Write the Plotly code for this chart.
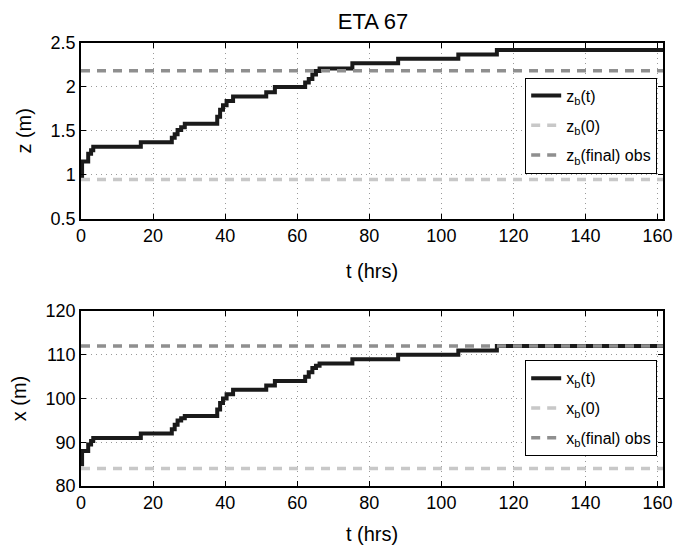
import plotly.graph_objects as go

# ---- data ----
t_hrs = [0, 0.3, 2.0, 2.8, 3.4, 16.6, 25.2, 26.0, 26.8, 27.8, 28.8, 37.8, 38.6,
         39.4, 40.4, 42.2, 51.4, 53.8, 62.2, 63.2, 64.2, 65.2, 66.2, 75.3, 88.0,
         104.7, 115.4, 161.5]
z_b = [0.97, 1.15, 1.24, 1.28, 1.32, 1.37, 1.42, 1.46, 1.51, 1.54, 1.58, 1.66, 1.74,
       1.79, 1.84, 1.89, 1.94, 2.00, 2.05, 2.09, 2.14, 2.18, 2.21, 2.27, 2.32,
       2.37, 2.42, 2.42]
x_b = [85, 88, 89.5, 90.3, 91, 92, 93, 94, 95, 95.5, 96, 97.5, 99,
       100, 101, 102, 103, 104, 105, 106, 107, 107.5, 108, 109, 110,
       111, 112, 112]
t_span = [0, 161.5]
z_b0 = 0.945
z_b_final_obs = 2.185
x_b0 = 84
x_b_final_obs = 112

title_text = "ETA 67"
z_ticks = [0.5, 1, 1.5, 2, 2.5]
x_ticks_m = [80, 90, 100, 110, 120]
t_ticks = [0, 20, 40, 60, 80, 100, 120, 140, 160]

FONT = "Liberation Sans, Arial, Helvetica, sans-serif"
BLACK = "#1a1a1a"
LIGHT = "#c8c8c8"
DARK = "#8f8f8f"
DASH = "9px,7px"

fig = go.Figure()

# top panel
fig.add_trace(go.Scatter(x=t_hrs, y=z_b, mode="lines", line=dict(color=BLACK, width=4, shape="hv"),
                         name="z<sub>b</sub>(t)", legend="legend", legendgroup="a1",
                         xaxis="x", yaxis="y"))
fig.add_trace(go.Scatter(x=t_span, y=[z_b0, z_b0], mode="lines",
                         line=dict(color=LIGHT, width=3.5, dash=DASH),
                         name="z<sub>b</sub>(0)", legend="legend", legendgroup="a2",
                         xaxis="x", yaxis="y"))
fig.add_trace(go.Scatter(x=t_span, y=[z_b_final_obs, z_b_final_obs], mode="lines",
                         line=dict(color=DARK, width=3.5, dash=DASH),
                         name="z<sub>b</sub>(final) obs", legend="legend", legendgroup="a3",
                         xaxis="x", yaxis="y"))

# bottom panel
fig.add_trace(go.Scatter(x=t_hrs, y=x_b, mode="lines", line=dict(color=BLACK, width=4, shape="hv"),
                         name="x<sub>b</sub>(t)", legend="legend2", legendgroup="b1",
                         xaxis="x2", yaxis="y2"))
fig.add_trace(go.Scatter(x=t_span, y=[x_b0, x_b0], mode="lines",
                         line=dict(color=LIGHT, width=3.5, dash=DASH),
                         name="x<sub>b</sub>(0)", legend="legend2", legendgroup="b2",
                         xaxis="x2", yaxis="y2"))
fig.add_trace(go.Scatter(x=t_span, y=[x_b_final_obs, x_b_final_obs], mode="lines",
                         line=dict(color=DARK, width=3.5, dash=DASH),
                         name="x<sub>b</sub>(final) obs", legend="legend2", legendgroup="b3",
                         xaxis="x2", yaxis="y2"))

axis_common = dict(
    showline=True, linecolor="black", linewidth=1.5, mirror="ticks",
    ticks="inside", ticklen=5, tickcolor="black", tickwidth=1,
    showgrid=True, gridcolor="#9a9a9a", gridwidth=1, griddash="1px,4px",
    zeroline=False, tickfont=dict(family=FONT, size=18, color="black"),
)

legend_common = dict(
    bgcolor="white", bordercolor="black", borderwidth=1,
    font=dict(family=FONT, size=16, color="black"),
    xanchor="right", yanchor="top", tracegroupgap=6,
    itemclick=False,
)

fig.update_layout(
    width=685, height=554,
    margin=dict(l=81, r=20, t=43, b=58),
    paper_bgcolor="white", plot_bgcolor="white",
    font=dict(family=FONT, color="black"),
    title=dict(text=title_text, x=(0.5 * (81 + 665)) / 685, xanchor="center",
               y=1 - 21 / 554, yanchor="middle",
               font=dict(family=FONT, size=22, color="black")),
    xaxis=dict(domain=[0, 1], range=t_span, tickvals=t_ticks, anchor="y",
               title=dict(text="t (hrs)", font=dict(family=FONT, size=20), standoff=19),
               **axis_common),
    yaxis=dict(domain=[0.6035, 1], range=[0.5, 2.5], tickvals=z_ticks, anchor="x",
               title=dict(text="z (m)", font=dict(family=FONT, size=20), standoff=14),
               **axis_common),
    xaxis2=dict(domain=[0, 1], range=t_span, tickvals=t_ticks, anchor="y2",
                title=dict(text="t (hrs)", font=dict(family=FONT, size=20), standoff=15),
                **axis_common),
    yaxis2=dict(domain=[0, 0.395], range=[80, 120], tickvals=x_ticks_m, anchor="x2",
                title=dict(text="x (m)", font=dict(family=FONT, size=20), standoff=14),
                **axis_common),
    legend=dict(x=0.99, y=0.922, **legend_common),
    legend2=dict(x=0.99, y=0.2837, **legend_common),
    showlegend=True,
)

fig.write_html("out.html", config={"displayModeBar": False},
               post_script="document.body.style.margin='0';")
